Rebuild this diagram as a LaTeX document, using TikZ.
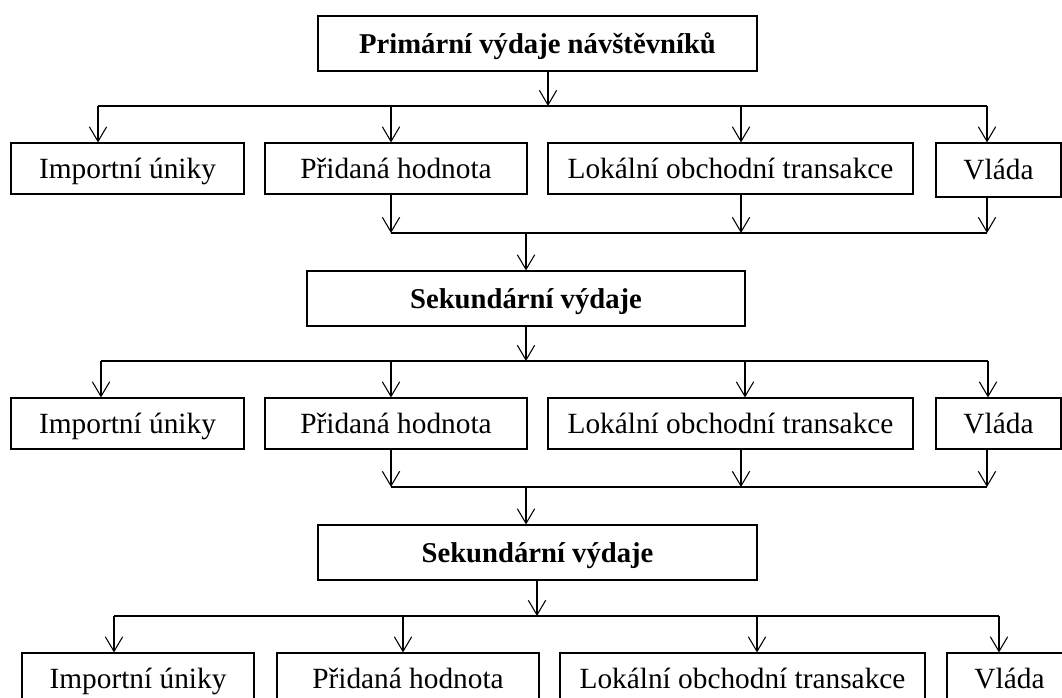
\documentclass[tikz,border=0pt]{standalone}
\usepackage{fontspec}
\setmainfont{Liberation Serif}
\usetikzlibrary{arrows.meta}
\begin{document}
\begin{tikzpicture}[x=0.75pt,y=-0.75pt,
  box/.style={draw=black, line width=0.8pt, inner sep=0pt, text height=19.8pt, text depth=5.3pt, font=\fontsize{22}{26}\selectfont},
  headbox/.style={box, font=\fontsize{21.5}{25}\selectfont\bfseries},
  conn/.style={draw=black, line width=0.8pt},
  arr/.style={conn, -{Straight Barb[length=11pt,width=13pt]}}]
\useasboundingbox (0,0) rectangle (1062,698);
\fill[white] (0,0) rectangle (1062,698);

% ---------- level 0
\node[headbox, minimum width={439*0.75pt}, minimum height={55*0.75pt}] (top) at (537.5,43.5) {Primární výdaje návštěvníků};

% ---------- row 1
\node[box, minimum width={233*0.75pt}, minimum height={51*0.75pt}] (imp1) at (127.5,168.5) {Importní úniky};
\node[box, minimum width={262*0.75pt}, minimum height={51*0.75pt}] (pri1) at (396,168.5) {Přidaná hodnota};
\node[box, minimum width={365*0.75pt}, minimum height={51*0.75pt}] (lok1) at (730.5,168.5) {Lokální obchodní transakce};
\node[box, minimum width={125*0.75pt}, minimum height={54*0.75pt}] (vla1) at (998.5,170) {Vláda};

\node[headbox, minimum width={438*0.75pt}, minimum height={55*0.75pt}] (sek1) at (526,298.5) {Sekundární výdaje};

% ---------- row 2
\node[box, minimum width={233*0.75pt}, minimum height={51*0.75pt}] (imp2) at (127.5,423.5) {Importní úniky};
\node[box, minimum width={262*0.75pt}, minimum height={51*0.75pt}] (pri2) at (396,423.5) {Přidaná hodnota};
\node[box, minimum width={365*0.75pt}, minimum height={51*0.75pt}] (lok2) at (730.5,423.5) {Lokální obchodní transakce};
\node[box, minimum width={125*0.75pt}, minimum height={51*0.75pt}] (vla2) at (998.5,423.5) {Vláda};

\node[headbox, minimum width={439*0.75pt}, minimum height={55*0.75pt}] (sek2) at (537.5,552.5) {Sekundární výdaje};

% ---------- row 3
\node[box, minimum width={232*0.75pt}, minimum height={51*0.75pt}] (imp3) at (138,678.5) {Importní úniky};
\node[box, minimum width={262*0.75pt}, minimum height={51*0.75pt}] (pri3) at (408,678.5) {Přidaná hodnota};
\node[box, minimum width={365*0.75pt}, minimum height={51*0.75pt}] (lok3) at (742.5,678.5) {Lokální obchodní transakce};
\node[box, minimum width={125*0.75pt}, minimum height={51*0.75pt}] (vla3) at (1009.5,678.5) {Vláda};

% ---------- split 1
\coordinate (t1) at (548,106);
\coordinate (a11) at (98,106);
\coordinate (a12) at (391,106);
\coordinate (a13) at (741,106);
\coordinate (a14) at (987,106);
\draw[arr] (top.south -| t1) -- (t1);
\draw[conn] (a11) -- (a14);
\draw[arr] (a11) -- (a11 |- imp1.north);
\draw[arr] (a12) -- (a12 |- pri1.north);
\draw[arr] (a13) -- (a13 |- lok1.north);
\draw[arr] (a14) -- (a14 |- vla1.north);

% ---------- merge 1
\coordinate (m11) at (391,233);
\coordinate (m12) at (741,233);
\coordinate (m13) at (987,233);
\coordinate (m1c) at (526,233);
\draw[arr] (pri1.south -| m11) -- (m11);
\draw[arr] (lok1.south -| m12) -- (m12);
\draw[arr] (vla1.south -| m13) -- (m13);
\draw[conn] (m11) -- (m13);
\draw[arr] (m1c) -- (sek1.north);

% ---------- split 2
\coordinate (s2c) at (526,361);
\coordinate (a21) at (101,361);
\coordinate (a22) at (391,361);
\coordinate (a23) at (745,361);
\coordinate (a24) at (988,361);
\draw[arr] (sek1.south) -- (s2c);
\draw[conn] (a21) -- (a24);
\draw[arr] (a21) -- (a21 |- imp2.north);
\draw[arr] (a22) -- (a22 |- pri2.north);
\draw[arr] (a23) -- (a23 |- lok2.north);
\draw[arr] (a24) -- (a24 |- vla2.north);

% ---------- merge 2
\coordinate (m21) at (391,487);
\coordinate (m22) at (741,487);
\coordinate (m23) at (987,487);
\coordinate (m2c) at (526,487);
\draw[arr] (pri2.south -| m21) -- (m21);
\draw[arr] (lok2.south -| m22) -- (m22);
\draw[arr] (vla2.south -| m23) -- (m23);
\draw[conn] (m21) -- (m23);
\draw[arr] (m2c) -- (m2c |- sek2.north);

% ---------- split 3
\coordinate (s3c) at (537,616);
\coordinate (a31) at (114,616);
\coordinate (a32) at (403,616);
\coordinate (a33) at (757,616);
\coordinate (a34) at (999,616);
\draw[arr] (sek2.south -| s3c) -- (s3c);
\draw[conn] (a31) -- (a34);
\draw[arr] (a31) -- (a31 |- imp3.north);
\draw[arr] (a32) -- (a32 |- pri3.north);
\draw[arr] (a33) -- (a33 |- lok3.north);
\draw[arr] (a34) -- (a34 |- vla3.north);
\end{tikzpicture}
\end{document}
